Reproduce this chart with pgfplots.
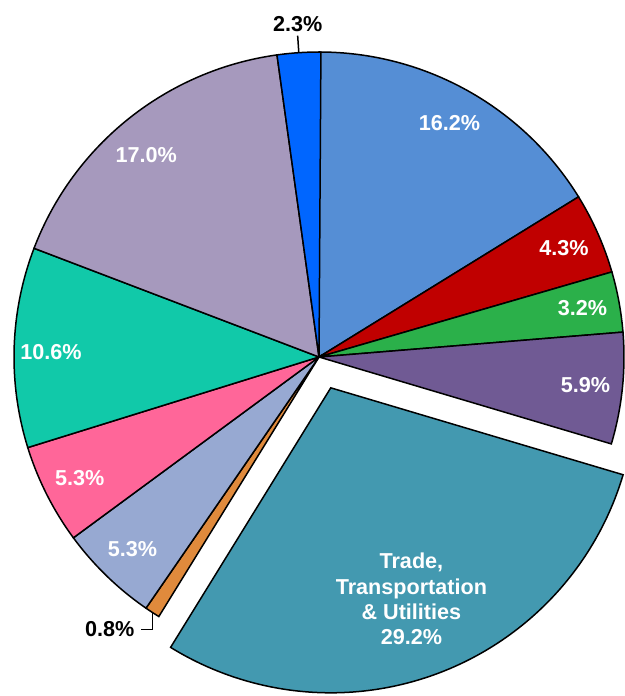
\documentclass[border=0pt]{standalone}
\usepackage{pgfplots}
\pgfplotsset{compat=1.18}
\usepackage{fontspec}
\setmainfont{Liberation Sans}
\definecolor{c1}{HTML}{558ED5}
\definecolor{c2}{HTML}{C00000}
\definecolor{c3}{HTML}{2BB04A}
\definecolor{c4}{HTML}{705A94}
\definecolor{c5}{HTML}{4399B0}
\definecolor{c6}{HTML}{E08A3C}
\definecolor{c7}{HTML}{97A9D2}
\definecolor{c8}{HTML}{FF6699}
\definecolor{c9}{HTML}{11C9A9}
\definecolor{c10}{HTML}{A699BD}
\definecolor{c11}{HTML}{0066FF}
\begin{document}
\begin{tikzpicture}
\begin{axis}[scale only axis, width=312.5pt, height=348pt,
  xmin=0, xmax=625, ymin=0, ymax=696, hide axis, clip=false]
\pgfplotsextra{
  \def\R{152.5pt}
  \gdef\cum{0}
  \foreach \v/\col/\ex/\lr/\tw/\lab in {
    16.2/c1/0pt/134pt/0/{16.2\%},
    4.3/c2/0pt/134pt/0/{4.3\%},
    3.2/c3/0pt/134pt/0/{3.2\%},
    5.9/c4/0pt/134pt/0/{5.9\%},
    29.2/c5/16.5pt/113pt/0/{},
    0.8/c6/0pt/134pt/0/{},
    5.3/c7/0pt/134pt/0/{5.3\%},
    5.3/c8/0pt/134pt/0/{5.3\%},
    10.6/c9/0pt/134pt/0.8/{10.6\%},
    17.0/c10/0pt/133pt/2/{17.0\%},
    2.3/c11/0pt/134pt/0/{}}{
    \pgfmathsetmacro\a{90-3.6*\cum}
    \pgfmathsetmacro\b{90-3.6*(\cum+\v)}
    \pgfmathsetmacro\m{(\a+\b)/2}
    \pgfmathsetmacro\ml{\m+\tw}
    \filldraw[fill=\col, draw=black, line width=0.75pt, line join=miter]
      ([shift={(\m:\ex)}]axis cs:319,339) -- +(\a:\R)
      arc[start angle=\a, end angle=\b, radius=\R] -- cycle;
    \node[text=white, font=\fontsize{10.8}{12.6}\selectfont\bfseries]
      at ([shift={(\m:\ex)},shift={(\ml:\lr)}]axis cs:319,339) {\lab};
    \pgfmathsetmacro\newcum{\cum+\v}
    \xdef\cum{\newcum}
  }
  \node[text=white, align=center, font=\fontsize{10.8}{12.6}\selectfont\bfseries]
    at ([shift={(-69.1:129.5pt)}]axis cs:319,339)
    {Trade,\\Transportation\\\& Utilities\\29.2\%};
  \draw[line width=0.75pt] ([shift={(93.8:152.5pt)}]axis cs:319,339) -- ([shift={(93.8:161pt)}]axis cs:319,339)
    node[above, inner sep=1.5pt, font=\fontsize{10.8}{12.6}\selectfont\bfseries] {2.3\%};
  \draw[line width=0.75pt] ([shift={(236.9:152.5pt)}]axis cs:319,339) -- ++(0,-8.5pt) -- ++(-5.5pt,0)
    node[left, inner sep=3.2pt, font=\fontsize{10.8}{12.6}\selectfont\bfseries] {0.8\%};
}
\end{axis}
\pgfresetboundingbox
\useasboundingbox (current axis.south west) rectangle (current axis.north east);
\end{tikzpicture}
\end{document}
